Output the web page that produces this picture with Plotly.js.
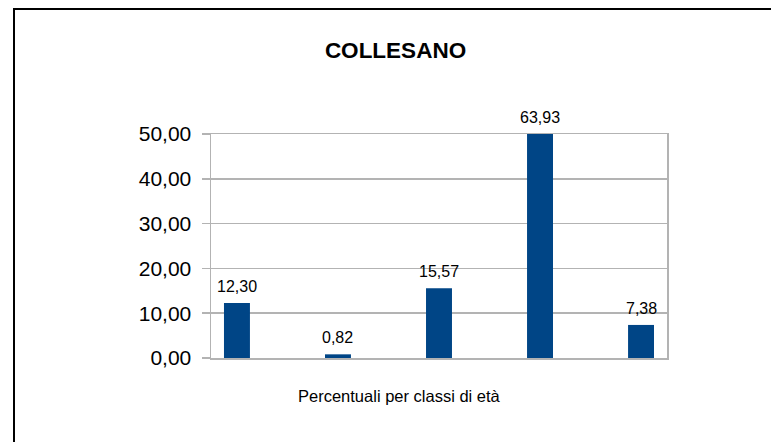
<!DOCTYPE html>
<html>
<head>
<meta charset="utf-8">
<script src="https://cdn.plot.ly/plotly-3.0.1.min.js"></script>
<style>
  html, body { margin: 0; padding: 0; background: #ffffff; }
  #wrap { position: relative; width: 771px; height: 442px; overflow: hidden; }
  #frame { position: absolute; left: 13px; top: 8px; width: 800px; height: 500px;
           border-left: 2px solid #000; border-top: 2px solid #000; pointer-events: none; }
  #chart { position: absolute; left: 0; top: 0; width: 771px; height: 442px; }
</style>
</head>
<body>
<div id="wrap">
  <div id="chart"></div>
  <div id="frame"></div>
</div>
<script>
// Data
const chartTitle = "COLLESANO";
const xAxisTitle = "Percentuali per classi di età";
const categories = ["Classe 1", "Classe 2", "Classe 3", "Classe 4", "Classe 5"];
const values = [12.30, 0.82, 15.57, 63.93, 7.38];
const yTickVals = [0, 10, 20, 30, 40, 50];

const yMax = 50;
const font = "Liberation Sans, Arial, sans-serif";
const fmt = v => v.toFixed(2).replace('.', ',');

const trace = {
  type: 'bar',
  x: categories,
  y: values,
  marker: { color: '#004586', line: { width: 0 } },
  hoverinfo: 'skip'
};

const annotations = categories.map((c, i) => ({
  x: c, y: Math.min(values[i], yMax), xref: 'x', yref: 'y',
  text: fmt(values[i]), showarrow: false,
  yanchor: 'bottom', yshift: 6,
  font: { family: font, size: 16, color: '#000' }
}));
annotations.push({
  x: 0.414, y: -0.17, xref: 'paper', yref: 'paper',
  text: xAxisTitle, showarrow: false, yanchor: 'middle', xanchor: 'center',
  font: { family: font, size: 16.5, color: '#000' }
});

const layout = {
  width: 771, height: 442,
  margin: { l: 211, r: 104, t: 134, b: 84 },
  paper_bgcolor: '#ffffff', plot_bgcolor: '#ffffff',
  separators: ',.',
  showlegend: false,
  bargap: 0.743,
  title: {
    text: '<b>' + chartTitle + '</b>',
    xref: 'container', yref: 'container',
    x: 0.513, xanchor: 'center', y: 0.887, yanchor: 'middle',
    font: { family: font, size: 22.5, color: '#000' }
  },
  xaxis: {
    type: 'category', range: [-0.257, 4.257],
    showticklabels: false, ticks: '',
    showgrid: false, zeroline: false,
    showline: true, linecolor: '#b3b3b3', linewidth: 1.5, mirror: true
  },
  yaxis: {
    range: [0, yMax], tickvals: yTickVals, tickformat: '.2f',
    ticks: 'outside', ticklen: 8, tickcolor: '#b3b3b3', tickwidth: 1.5,
    showgrid: true, gridcolor: '#b3b3b3', gridwidth: 1.5,
    zeroline: false,
    showline: true, linecolor: '#b3b3b3', linewidth: 1.5, mirror: true,
    ticklabelstandoff: 6,
    tickfont: { family: font, size: 21, color: '#000' }
  },
  annotations: annotations
};

Plotly.newPlot('chart', [trace], layout, { staticPlot: true, displayModeBar: false });
</script>
</body>
</html>
